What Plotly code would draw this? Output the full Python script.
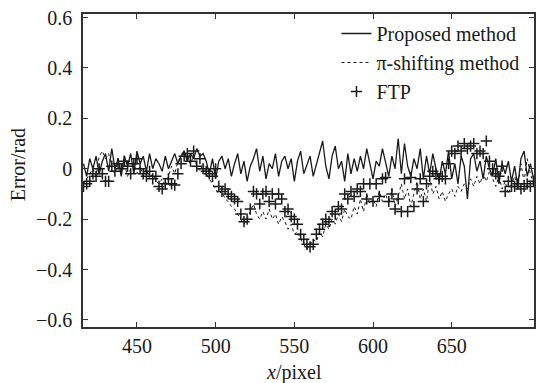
import plotly.graph_objects as go

# sample positions (pixel index along x)
x_pixel = list(range(416, 703, 2))

proposed = [
    0.02, -0.03, 0.04, 0.0, 0.05, -0.02, 0.03, 0.06,
    -0.01, 0.08, 0.0, 0.04, -0.03, 0.05, 0.01, 0.06,
    -0.02, 0.07, 0.02, 0.05, -0.01, 0.06, 0.0, 0.04,
    0.02, -0.01, 0.05, 0.0, 0.03, 0.06, 0.02, 0.05,
    0.07, 0.03, 0.06, 0.04, 0.08, 0.05, 0.06, 0.03,
    -0.02, 0.04, -0.04, 0.03, 0.05, 0.0, 0.04, -0.03,
    0.02, 0.06, -0.02, 0.03, -0.05, 0.01, 0.04, 0.08,
    -0.01, 0.05, -0.04, 0.02, 0.0, 0.06, -0.03, 0.03,
    0.05, 0.0, 0.04, -0.05, 0.03, 0.07, -0.02, 0.02,
    0.05, -0.03, 0.02, 0.06, 0.11, 0.01, -0.04, 0.05,
    0.09, 0.0, 0.03, -0.05, 0.06, -0.02, 0.04, -0.01,
    0.05, 0.0, 0.08, 0.02, -0.04, 0.03, 0.01, 0.08,
    0.02, -0.03, 0.05, 0.0, 0.12, -0.02, 0.1, 0.01,
    -0.03, 0.04, 0.0, 0.08, -0.04, 0.05, -0.02, 0.06,
    0.0, -0.05, 0.03, -0.02, 0.07, -0.04, 0.02, -0.06,
    0.05, 0.01, -0.12, 0.04, 0.06, -0.01, 0.03, -0.04,
    0.05, 0.0, -0.03, 0.04, -0.06, 0.02, -0.02, 0.03,
    -0.05, 0.01, -0.07, 0.04, 0.07, -0.03, 0.02, -0.04,
]

pi_shifting = [
    -0.06, -0.04, -0.02, 0.0, -0.03, 0.05, 0.07, 0.04,
    0.06, 0.0, -0.02, 0.03, -0.01, 0.02, -0.03, 0.0,
    0.02, -0.02, 0.01, -0.03, 0.0, -0.04, -0.02, -0.05,
    -0.06, -0.04, -0.07, -0.03, 0.01, -0.02, 0.03, 0.05,
    0.06, 0.04, 0.02, 0.05, 0.01, -0.01, 0.02, -0.02,
    -0.04, -0.06, -0.08, -0.1, -0.09, -0.12, -0.13, -0.15,
    -0.16, -0.18, -0.2, -0.22, -0.2, -0.17, -0.14, -0.18,
    -0.2, -0.17, -0.2, -0.16, -0.2, -0.18, -0.22, -0.19,
    -0.21, -0.24, -0.22, -0.26, -0.25, -0.28, -0.3, -0.32,
    -0.3, -0.28, -0.29, -0.25, -0.27, -0.22, -0.24, -0.2,
    -0.22, -0.18, -0.21, -0.16, -0.19, -0.2, -0.15, -0.18,
    -0.12, -0.17, -0.1, -0.14, -0.12, -0.15, -0.09, -0.13,
    -0.1, -0.14, -0.08, -0.15, -0.11, -0.06, -0.12, -0.08,
    -0.15, -0.1, -0.05, -0.12, -0.08, -0.13, -0.04, -0.1,
    -0.07, -0.12, -0.09, -0.13, -0.1, -0.08, -0.11, -0.07,
    -0.09, -0.06, -0.08, -0.04, -0.07, -0.03, -0.06, -0.02,
    -0.05, -0.01, -0.04, -0.07, -0.03, -0.08, -0.05, -0.1,
    -0.06, -0.03, -0.08, 0.02, -0.05, 0.04, -0.02, -0.06,
]

ftp = [
    -0.07, -0.06, -0.05, -0.02, -0.03, 0.0, -0.02, -0.05,
    -0.05, 0.01, -0.01, 0.02, 0.0, 0.03, 0.01, -0.02,
    0.02, 0.04, 0.0, -0.02, -0.03, -0.01, -0.04, -0.03,
    -0.07, -0.08, -0.06, -0.04, -0.06, -0.065, -0.02, 0.02,
    0.05, 0.06, 0.03, 0.07, 0.01, 0.04, 0.0, -0.01,
    -0.02, -0.03, 0.0, -0.07, -0.09, -0.08, -0.1, -0.11,
    -0.12, -0.13, -0.18, -0.21, -0.2, -0.16, -0.09, -0.1,
    -0.14, -0.1, -0.09, -0.13, -0.1, -0.14, -0.1, -0.12,
    -0.17, -0.16, -0.19, -0.2, -0.22, -0.26, -0.28, -0.3,
    -0.31, -0.3, -0.26, -0.24, -0.22, -0.2, -0.21, -0.17,
    -0.18, -0.15, -0.16, -0.1, -0.12, -0.09, -0.11, -0.08,
    -0.09, -0.06, -0.12, -0.06, -0.13, -0.06, -0.11, -0.04,
    -0.035, -0.13, -0.1, -0.16, -0.12, -0.17, -0.04, -0.17,
    -0.035, -0.15, -0.08, -0.04, -0.13, -0.06, -0.03, -0.01,
    -0.02, -0.04, -0.03, -0.04, 0.02, 0.07, 0.06, 0.09,
    0.07, 0.1, 0.08, 0.09, 0.1, 0.06, 0.07, 0.06,
    0.11, 0.03, 0.0, -0.02, -0.03, 0.01, -0.09, -0.05,
    -0.07, -0.07, -0.06, -0.08, -0.07, -0.06, -0.07, -0.05,
]

x_ticks = [450, 500, 550, 600, 650]
y_ticks = [-0.6, -0.4, -0.2, 0, 0.2, 0.4, 0.6]
y_tick_text = ["\u22120.6", "\u22120.4", "\u22120.2", "0", "0.2", "0.4", "0.6"]

FONT = "Times New Roman, Liberation Serif, DejaVu Serif, serif"
INK = "#1a1a1a"

fig = go.Figure()
fig.add_trace(go.Scatter(
    x=x_pixel, y=proposed, mode="lines", name="Proposed method",
    line=dict(color=INK, width=1.3),
))
fig.add_trace(go.Scatter(
    x=x_pixel, y=pi_shifting, mode="lines", name="\u03c0-shifting method",
    line=dict(color=INK, width=1, dash="dot"),
))
fig.add_trace(go.Scatter(
    x=x_pixel, y=ftp, mode="markers", name="FTP",
    marker=dict(symbol="cross-thin", size=8, line=dict(color=INK, width=1.5), color=INK),
))

fig.update_layout(
    width=536, height=383,
    margin=dict(l=83, r=0, t=14, b=56),
    paper_bgcolor="white", plot_bgcolor="white",
    font=dict(family=FONT, size=20, color=INK),
    showlegend=True,
    legend=dict(
        x=0.562, y=1.0, xanchor="left", yanchor="top",
        bgcolor="rgba(0,0,0,0)", font=dict(size=20, family=FONT),
        tracegroupgap=0, itemwidth=30,
    ),
    xaxis=dict(
        range=[415.7, 702.3], tickvals=x_ticks, ticks="inside", ticklen=5,
        showline=True, linecolor="#333", linewidth=1.5, mirror="ticks",
        showgrid=False, zeroline=False, tickcolor="#333",
        tickfont=dict(size=20, family=FONT), ticklabelstandoff=0,
    ),
    yaxis=dict(
        range=[-0.628, 0.614], tickvals=y_ticks, ticktext=y_tick_text,
        ticks="inside", ticklen=5,
        showline=True, linecolor="#333", linewidth=1.5, mirror="ticks",
        showgrid=False, zeroline=False, tickcolor="#333",
        tickfont=dict(size=20, family=FONT), ticklabelstandoff=5,
    ),
    annotations=[
        dict(text="<i>x</i>/pixel", xref="paper", yref="paper",
             x=(295 - 83) / 453, y=-(372 - 327) / 313, xanchor="center", yanchor="middle",
             showarrow=False, font=dict(size=20, family=FONT)),
        dict(text="Error/rad", xref="paper", yref="paper",
             x=-(83 - 18) / 453, y=(327 - 165) / 313, xanchor="center", yanchor="middle",
             textangle=-90, showarrow=False, font=dict(size=20, family=FONT)),
    ],
)

fig.write_html("out.html")
